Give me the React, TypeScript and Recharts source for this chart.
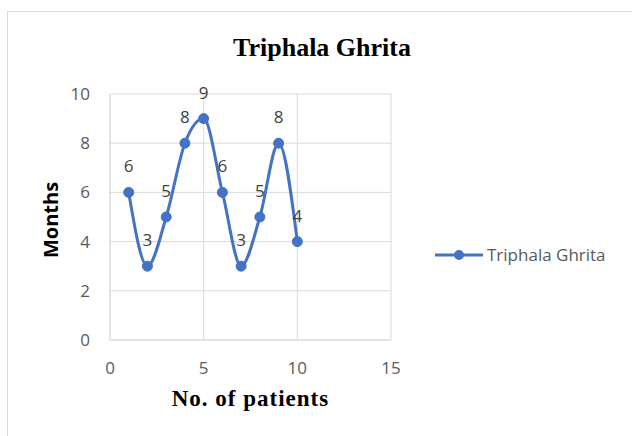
import { CartesianGrid, LabelList, Line, LineChart, XAxis, YAxis } from "recharts";

const patients = [1, 2, 3, 4, 5, 6, 7, 8, 9, 10];
const months = [6, 3, 5, 8, 9, 6, 3, 5, 8, 4];
const xTicks = [0, 5, 10, 15];
const yTicks = [0, 2, 4, 6, 8, 10];
const seriesName = "Triphala Ghrita";
const title = "Triphala Ghrita";
const xTitle = "No. of patients";
const yTitle = "Months";

const blue = "#4472C4";
const grid = "#d9d9d9";
const tickColor = "#595959";
const sans = "'Open Sans', 'Liberation Sans', sans-serif";
const serif = "'Liberation Serif', serif";

export default function App() {
  const data = patients.map((p, i) => ({ patients: p, months: months[i] }));

  return (
    <div style={{ position: "absolute", left: 0, top: 0, width: 632, height: 436, background: "#fff", overflow: "hidden" }}>
      {/* chart frame */}
      <div style={{ position: "absolute", left: 7, top: 11, width: 700, height: 500, border: "1px solid #d9d9d9" }} />

      <div style={{ position: "absolute", left: 0, top: 35, width: 644, textAlign: "center", fontFamily: serif, fontWeight: 700, fontSize: 26, lineHeight: "26px", color: "#000" }}>
        {title}
      </div>

      <LineChart
        width={632}
        height={436}
        data={data}
        margin={{ top: 94, right: 241, bottom: 56, left: 50 }}
        style={{ position: "absolute", left: 0, top: 0 }}
      >
        <CartesianGrid stroke={grid} strokeWidth={1} />
        <XAxis
          dataKey="patients"
          type="number"
          domain={[0, 15]}
          ticks={xTicks}
          height={40}
          axisLine={{ stroke: grid }}
          tickLine={false}
          tickSize={0}
          tickMargin={22}
          tick={{ fill: tickColor, fontSize: 17, fontFamily: sans }}
        />
        <YAxis
          type="number"
          domain={[0, 10]}
          ticks={yTicks}
          width={60}
          axisLine={{ stroke: grid }}
          tickLine={false}
          tickSize={0}
          tickMargin={20}
          tick={{ fill: tickColor, fontSize: 17, fontFamily: sans }}
        />
        <Line
          dataKey="months"
          name={seriesName}
          type="monotone"
          stroke={blue}
          strokeWidth={3}
          dot={{ r: 5, fill: blue, stroke: blue, strokeWidth: 1 }}
          activeDot={false}
          isAnimationActive={false}
        >
          <LabelList dataKey="months" position="top" offset={20} fill="#404040" fontSize={17} fontFamily={sans} />
        </Line>
      </LineChart>

      <div style={{ position: "absolute", left: 0, top: 387, width: 501, textAlign: "center", fontFamily: serif, fontWeight: 700, fontSize: 23, lineHeight: "23px", letterSpacing: 1, color: "#000" }}>
        {xTitle}
      </div>

      <div
        style={{
          position: "absolute",
          left: 51,
          top: 220,
          transform: "translate(-50%, -50%) rotate(-90deg)",
          fontFamily: sans,
          fontWeight: 700,
          fontSize: 20,
          lineHeight: "20px",
          color: "#000",
          whiteSpace: "nowrap",
        }}
      >
        {yTitle}
      </div>

      <div style={{ position: "absolute", left: 435, top: 244, height: 22, display: "flex", alignItems: "center" }}>
        <svg width={48} height={22}>
          <line x1={0} y1={11} x2={48} y2={11} stroke={blue} strokeWidth={3} />
          <circle cx={24} cy={11} r={5} fill={blue} />
        </svg>
        <span style={{ marginLeft: 4, fontFamily: sans, fontSize: 17, lineHeight: "22px", color: tickColor }}>{seriesName}</span>
      </div>
    </div>
  );
}
